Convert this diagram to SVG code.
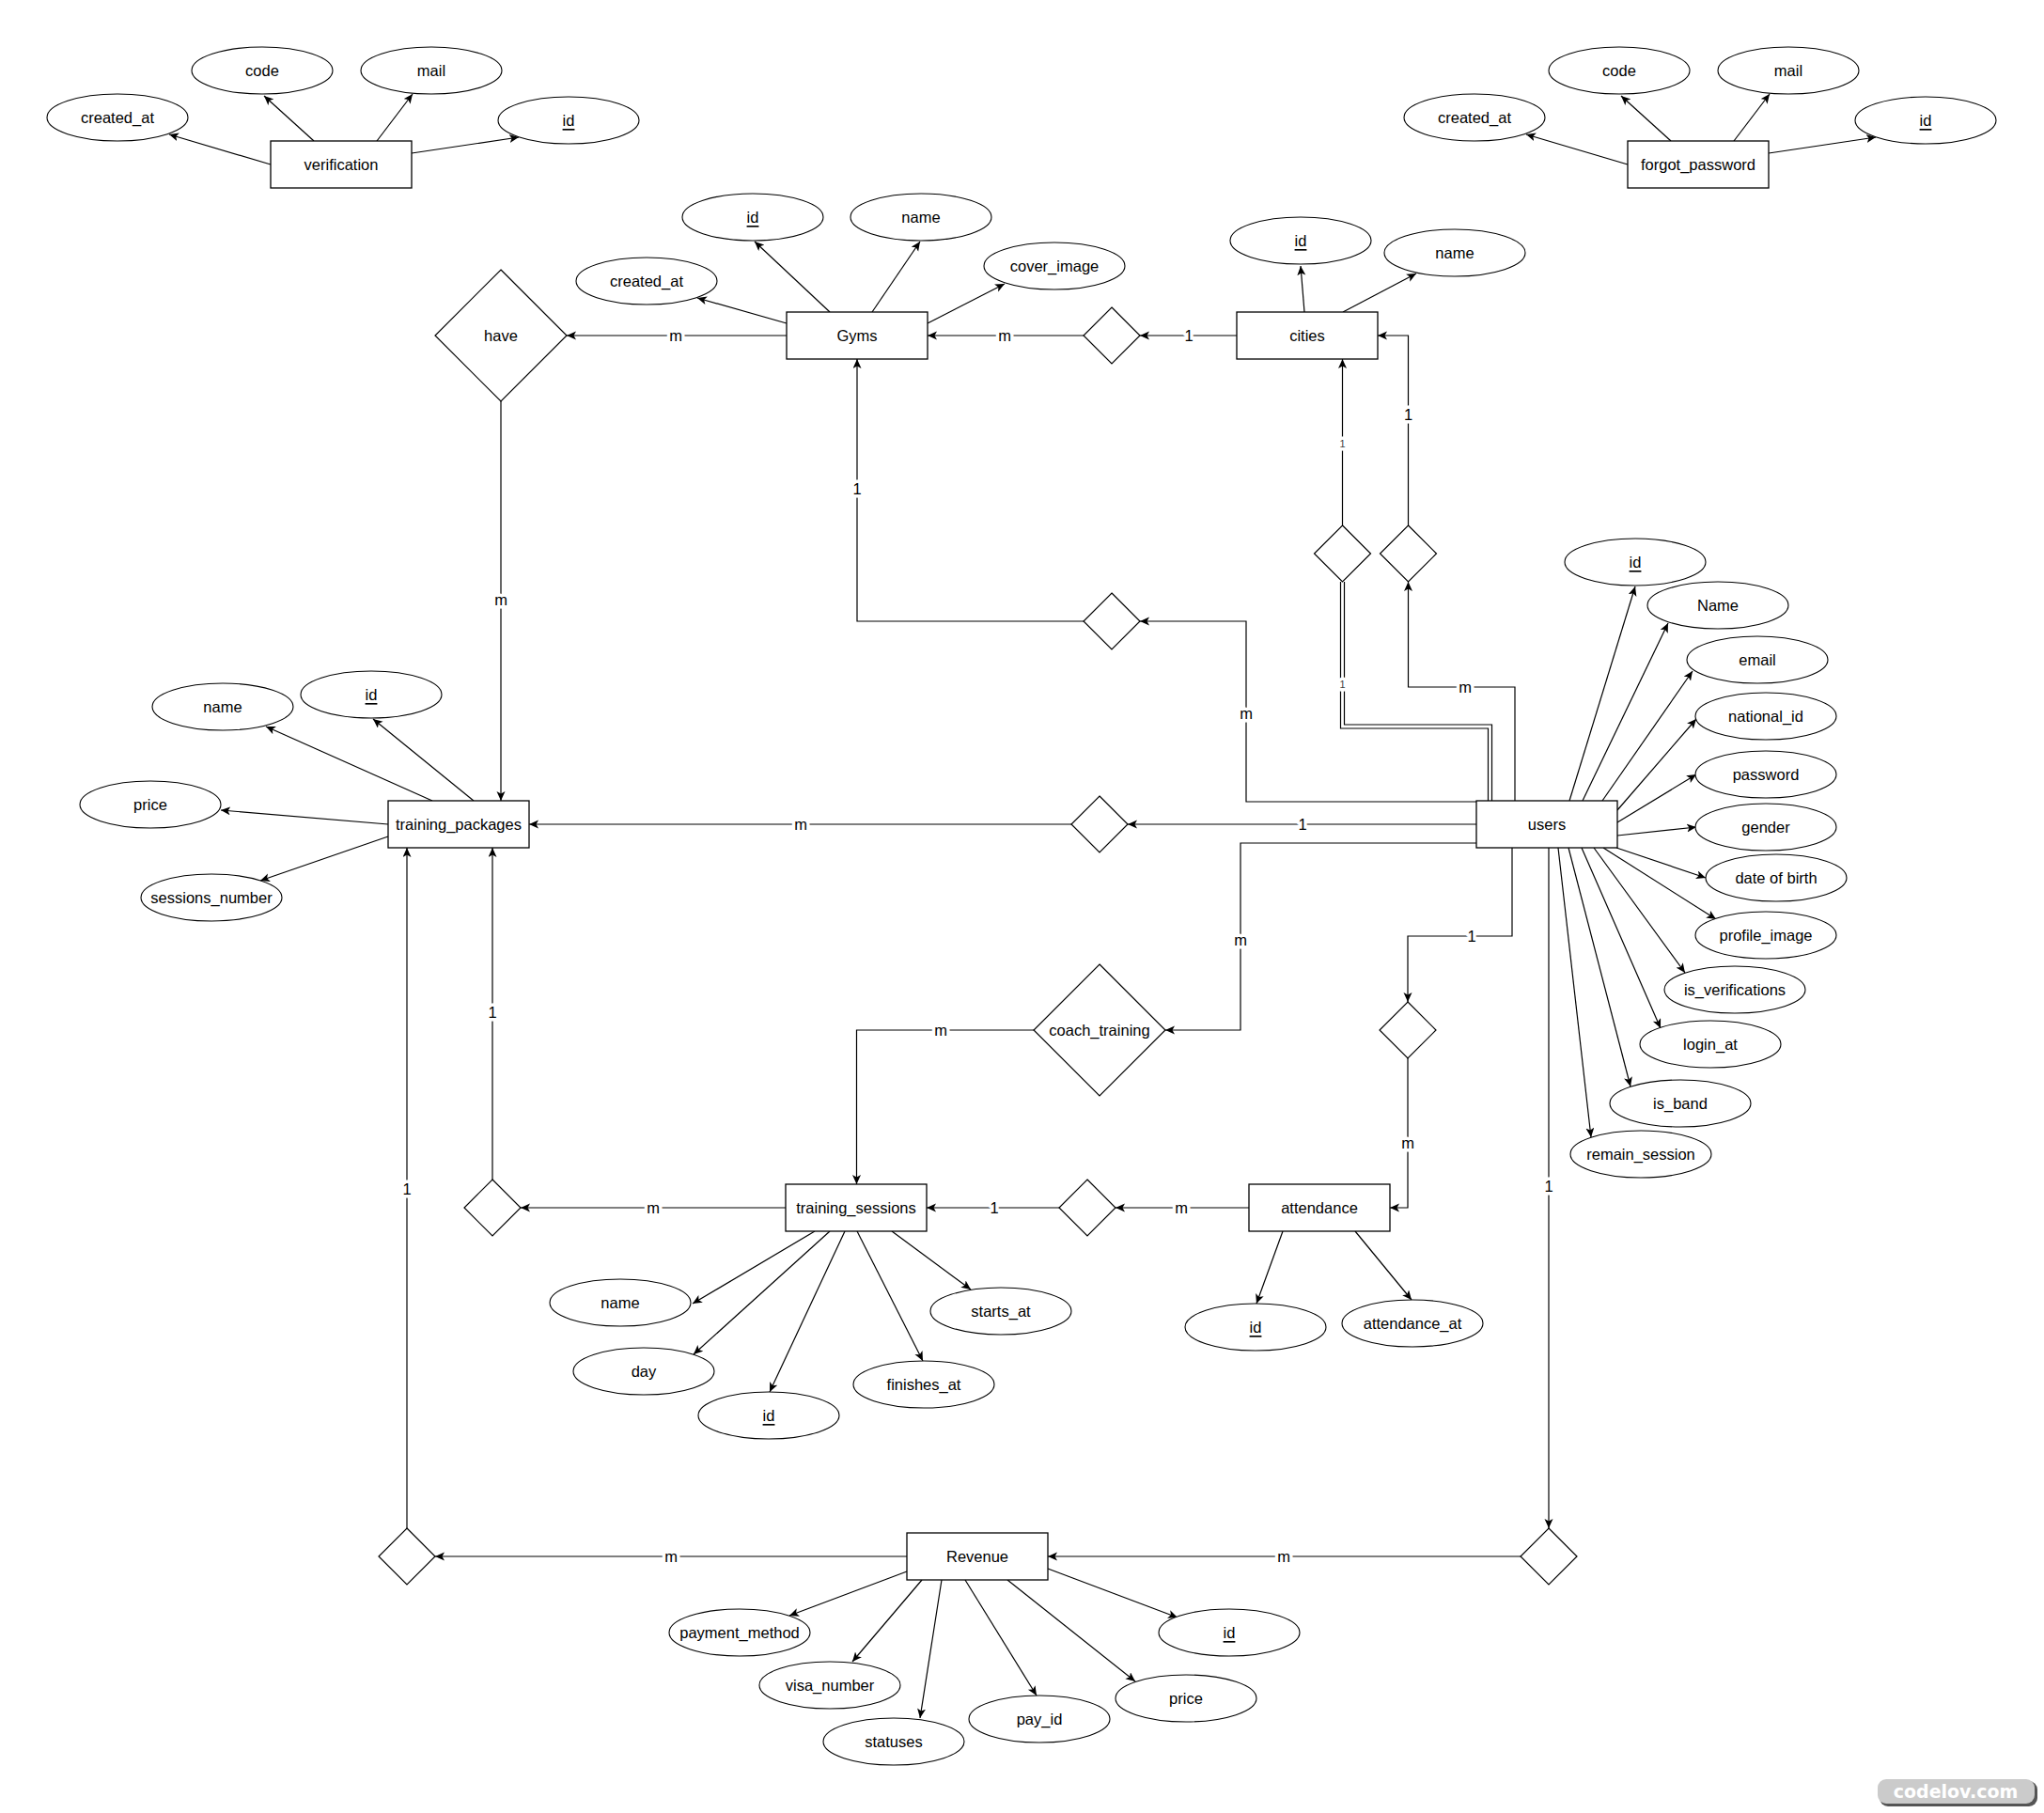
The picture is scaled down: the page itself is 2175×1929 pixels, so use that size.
<svg xmlns="http://www.w3.org/2000/svg" width="2175" height="1929" viewBox="0 0 2175 1929">
<style>
.ent{fill:#fff;stroke:#000;stroke-width:1.3}
.att{fill:#fff;stroke:#000;stroke-width:1.1}
.rel{fill:#fff;stroke:#000;stroke-width:1.2}
text{font-family:"Liberation Sans",Arial,sans-serif;font-size:16.5px;fill:#000;text-anchor:middle;dominant-baseline:central}
.u{text-decoration:underline}
.c{fill:none;stroke:#000;stroke-width:1.2}
.a{marker-end:url(#arr)}
.lb{paint-order:stroke;stroke:#fff;stroke-width:7px;stroke-linejoin:round}
.sm{font-size:11px;fill:#444}
</style>
<defs>
<marker id="arr" markerUnits="userSpaceOnUse" markerWidth="12" markerHeight="10" refX="10" refY="4.5" orient="auto">
<path d="M0,0 L10,4.5 L0,9 L2.5,4.5 Z" fill="#000"/>
</marker>
</defs>
<rect width="2175" height="1929" fill="#fff"/>

<g id="connectors">
<!-- verification attrs -->
<path class="c a" d="M288,175 L180,143"/>
<path class="c a" d="M334,150 L281,102"/>
<path class="c a" d="M401,150 L439,100"/>
<path class="c a" d="M438,163 L552,146"/>
<!-- forgot_password attrs -->
<path class="c a" d="M1732,175 L1624,143"/>
<path class="c a" d="M1778,150 L1725,102"/>
<path class="c a" d="M1845,150 L1883,100"/>
<path class="c a" d="M1882,163 L1996,146"/>
<!-- Gyms attrs -->
<path class="c a" d="M837,344 L742,317"/>
<path class="c a" d="M883,332 L803,257"/>
<path class="c a" d="M928,332 L979,257"/>
<path class="c a" d="M987,344 L1069,302"/>
<!-- cities attrs -->
<path class="c a" d="M1388,332 L1384,283"/>
<path class="c a" d="M1429,332 L1507,291"/>
<!-- users attrs -->
<path class="c a" d="M1670,852 L1740,624"/>
<path class="c a" d="M1684,852 L1775,663"/>
<path class="c a" d="M1705,852 L1801,714"/>
<path class="c a" d="M1721,862 L1805,765"/>
<path class="c a" d="M1721,875 L1805,824"/>
<path class="c a" d="M1721,889 L1805,880"/>
<path class="c a" d="M1720,902 L1815,934"/>
<path class="c a" d="M1706,902 L1826,978"/>
<path class="c a" d="M1696,902 L1793,1035"/>
<path class="c a" d="M1683,902 L1767,1094"/>
<path class="c a" d="M1669,902 L1735,1156"/>
<path class="c a" d="M1658,902 L1693,1210"/>
<!-- training_packages attrs -->
<path class="c a" d="M460,852 L283,773"/>
<path class="c a" d="M504,852 L397,765"/>
<path class="c a" d="M413,877 L235,862"/>
<path class="c a" d="M413,890 L277,937"/>
<!-- training_sessions attrs -->
<path class="c a" d="M867,1310 L737,1387"/>
<path class="c a" d="M883,1310 L738,1441"/>
<path class="c a" d="M899,1310 L819,1481"/>
<path class="c a" d="M912,1310 L982,1448"/>
<path class="c a" d="M949,1310 L1033,1372"/>
<!-- attendance attrs -->
<path class="c a" d="M1365,1310 L1337,1387"/>
<path class="c a" d="M1442,1310 L1502,1383"/>
<!-- Revenue attrs -->
<path class="c a" d="M965,1672 L840,1719"/>
<path class="c a" d="M981,1681 L907,1768"/>
<path class="c a" d="M1002,1681 L979,1828"/>
<path class="c a" d="M1027,1681 L1103,1804"/>
<path class="c a" d="M1072,1681 L1208,1789"/>
<path class="c a" d="M1115,1669 L1253,1721"/>

<!-- relationships -->
<path class="c a" d="M837,357 L603,357"/>
<path class="c a" d="M533,427 L533,852"/>
<path class="c a" d="M1153,357 L987,357"/>
<path class="c a" d="M1316,357 L1213,357"/>
<path class="c a" d="M1428.5,559 L1428.5,382"/>
<path class="c" d="M1426.5,619 L1426.5,775 L1583.5,775 L1583.5,852"/>
<path class="c" d="M1430.5,619 L1430.5,771 L1587.5,771 L1587.5,852"/>
<path class="c a" d="M1612,852 L1612,731 L1498.5,731 L1498.5,619"/>
<path class="c a" d="M1498.5,559 L1498.5,357 L1466,357"/>
<path class="c a" d="M1571,853 L1326,853 L1326,661 L1213,661"/>
<path class="c a" d="M1153,661 L912,661 L912,382"/>
<path class="c a" d="M1571,877 L1200,877"/>
<path class="c a" d="M1140,877 L563,877"/>
<path class="c a" d="M1571,897 L1320,897 L1320,1096 L1240,1096"/>
<path class="c a" d="M1100,1096 L911.5,1096 L911.5,1260"/>
<path class="c a" d="M1609,902 L1609,996 L1498,996 L1498,1066"/>
<path class="c a" d="M1498,1126 L1498,1285 L1479,1285"/>
<path class="c a" d="M1329,1285 L1187,1285"/>
<path class="c a" d="M1127,1285 L986,1285"/>
<path class="c a" d="M836,1285 L554,1285"/>
<path class="c a" d="M524,1255 L524,902"/>
<path class="c a" d="M1648,902 L1648,1626"/>
<path class="c a" d="M1618,1656 L1115,1656"/>
<path class="c a" d="M965,1656 L463,1656"/>
<path class="c a" d="M433,1626 L433,902"/>

<!-- labels -->
<text class="lb" x="719" y="357">m</text>
<text class="lb" x="533" y="638">m</text>
<text class="lb" x="1069" y="357">m</text>
<text class="lb" x="1265" y="357">1</text>
<text class="lb sm" x="1428.5" y="472">1</text>
<text class="lb sm" x="1428.5" y="728">1</text>
<text class="lb" x="1559" y="731">m</text>
<text class="lb" x="1498.5" y="441">1</text>
<text class="lb" x="1326" y="759">m</text>
<text class="lb" x="912" y="520">1</text>
<text class="lb" x="1386" y="877">1</text>
<text class="lb" x="852" y="877">m</text>
<text class="lb" x="1320" y="1000">m</text>
<text class="lb" x="1001" y="1096">m</text>
<text class="lb" x="1566" y="996">1</text>
<text class="lb" x="1498" y="1216">m</text>
<text class="lb" x="1257" y="1285">m</text>
<text class="lb" x="1058" y="1285">1</text>
<text class="lb" x="695" y="1285">m</text>
<text class="lb" x="524" y="1077">1</text>
<text class="lb" x="1648" y="1262">1</text>
<text class="lb" x="1366" y="1656">m</text>
<text class="lb" x="714" y="1656">m</text>
<text class="lb" x="433" y="1265">1</text>
</g>

<!-- verification -->
<g id="verification"><rect class="ent" x="288" y="150" width="150" height="50"/><text x="363" y="175">verification</text></g>
<g id="verification_created_at"><ellipse class="att" cx="125" cy="125" rx="75" ry="25"/><text x="125" y="125">created_at</text></g>
<g id="verification_code"><ellipse class="att" cx="279" cy="75" rx="75" ry="25"/><text x="279" y="75">code</text></g>
<g id="verification_mail"><ellipse class="att" cx="459" cy="75" rx="75" ry="25"/><text x="459" y="75">mail</text></g>
<g id="verification_id"><ellipse class="att" cx="605" cy="128" rx="75" ry="25"/><text class="u" x="605" y="128">id</text></g>

<!-- forgot_password -->
<g id="forgot_password"><rect class="ent" x="1732" y="150" width="150" height="50"/><text x="1807" y="175">forgot_password</text></g>
<g id="fp_created_at"><ellipse class="att" cx="1569" cy="125" rx="75" ry="25"/><text x="1569" y="125">created_at</text></g>
<g id="fp_code"><ellipse class="att" cx="1723" cy="75" rx="75" ry="25"/><text x="1723" y="75">code</text></g>
<g id="fp_mail"><ellipse class="att" cx="1903" cy="75" rx="75" ry="25"/><text x="1903" y="75">mail</text></g>
<g id="fp_id"><ellipse class="att" cx="2049" cy="128" rx="75" ry="25"/><text class="u" x="2049" y="128">id</text></g>

<!-- Gyms -->
<g id="gyms"><rect class="ent" x="837" y="332" width="150" height="50"/><text x="912" y="357">Gyms</text></g>
<g id="gyms_created_at"><ellipse class="att" cx="688" cy="299" rx="75" ry="25"/><text x="688" y="299">created_at</text></g>
<g id="gyms_id"><ellipse class="att" cx="801" cy="231" rx="75" ry="25"/><text class="u" x="801" y="231">id</text></g>
<g id="gyms_name"><ellipse class="att" cx="980" cy="231" rx="75" ry="25"/><text x="980" y="231">name</text></g>
<g id="gyms_cover_image"><ellipse class="att" cx="1122" cy="283" rx="75" ry="25"/><text x="1122" y="283">cover_image</text></g>
<g id="have"><polygon class="rel" points="533,287 603,357 533,427 463,357"/><text x="533" y="357">have</text></g>
<g id="rel_gyms_cities"><polygon class="rel" points="1183,327 1213,357 1183,387 1153,357"/></g>

<!-- cities -->
<g id="cities"><rect class="ent" x="1316" y="332" width="150" height="50"/><text x="1391" y="357">cities</text></g>
<g id="cities_id"><ellipse class="att" cx="1384" cy="256" rx="75" ry="25"/><text class="u" x="1384" y="256">id</text></g>
<g id="cities_name"><ellipse class="att" cx="1548" cy="269" rx="75" ry="25"/><text x="1548" y="269">name</text></g>
<g id="rel_users_cities_a"><polygon class="rel" points="1428.5,559 1458.5,589 1428.5,619 1398.5,589"/></g>
<g id="rel_users_cities_b"><polygon class="rel" points="1498.5,559 1528.5,589 1498.5,619 1468.5,589"/></g>
<g id="rel_users_gyms"><polygon class="rel" points="1183,631 1213,661 1183,691 1153,661"/></g>

<!-- users -->
<g id="users"><rect class="ent" x="1571" y="852" width="150" height="50"/><text x="1646" y="877">users</text></g>
<g id="users_id"><ellipse class="att" cx="1740" cy="598" rx="75" ry="25"/><text class="u" x="1740" y="598">id</text></g>
<g id="users_name"><ellipse class="att" cx="1828" cy="644" rx="75" ry="25"/><text x="1828" y="644">Name</text></g>
<g id="users_email"><ellipse class="att" cx="1870" cy="702" rx="75" ry="25"/><text x="1870" y="702">email</text></g>
<g id="users_national_id"><ellipse class="att" cx="1879" cy="762" rx="75" ry="25"/><text x="1879" y="762">national_id</text></g>
<g id="users_password"><ellipse class="att" cx="1879" cy="824" rx="75" ry="25"/><text x="1879" y="824">password</text></g>
<g id="users_gender"><ellipse class="att" cx="1879" cy="880" rx="75" ry="25"/><text x="1879" y="880">gender</text></g>
<g id="users_dob"><ellipse class="att" cx="1890" cy="934" rx="75" ry="25"/><text x="1890" y="934">date of birth</text></g>
<g id="users_profile_image"><ellipse class="att" cx="1879" cy="995" rx="75" ry="25"/><text x="1879" y="995">profile_image</text></g>
<g id="users_is_verifications"><ellipse class="att" cx="1846" cy="1053" rx="75" ry="25"/><text x="1846" y="1053">is_verifications</text></g>
<g id="users_login_at"><ellipse class="att" cx="1820" cy="1111" rx="75" ry="25"/><text x="1820" y="1111">login_at</text></g>
<g id="users_is_band"><ellipse class="att" cx="1788" cy="1174" rx="75" ry="25"/><text x="1788" y="1174">is_band</text></g>
<g id="users_remain_session"><ellipse class="att" cx="1746" cy="1228" rx="75" ry="25"/><text x="1746" y="1228">remain_session</text></g>

<!-- training_packages -->
<g id="training_packages"><rect class="ent" x="413" y="852" width="150" height="50"/><text x="488" y="877">training_packages</text></g>
<g id="tp_name"><ellipse class="att" cx="237" cy="752" rx="75" ry="25"/><text x="237" y="752">name</text></g>
<g id="tp_id"><ellipse class="att" cx="395" cy="739" rx="75" ry="25"/><text class="u" x="395" y="739">id</text></g>
<g id="tp_price"><ellipse class="att" cx="160" cy="856" rx="75" ry="25"/><text x="160" y="856">price</text></g>
<g id="tp_sessions_number"><ellipse class="att" cx="225" cy="955" rx="75" ry="25"/><text x="225" y="955">sessions_number</text></g>
<g id="rel_users_packages"><polygon class="rel" points="1170,847 1200,877 1170,907 1140,877"/></g>

<!-- coach_training -->
<g id="coach_training"><polygon class="rel" points="1170,1026 1240,1096 1170,1166 1100,1096"/><text x="1170" y="1096">coach_training</text></g>

<!-- training_sessions -->
<g id="training_sessions"><rect class="ent" x="836" y="1260" width="150" height="50"/><text x="911" y="1285">training_sessions</text></g>
<g id="ts_name"><ellipse class="att" cx="660" cy="1386" rx="75" ry="25"/><text x="660" y="1386">name</text></g>
<g id="ts_day"><ellipse class="att" cx="685" cy="1459" rx="75" ry="25"/><text x="685" y="1459">day</text></g>
<g id="ts_id"><ellipse class="att" cx="818" cy="1506" rx="75" ry="25"/><text class="u" x="818" y="1506">id</text></g>
<g id="ts_finishes_at"><ellipse class="att" cx="983" cy="1473" rx="75" ry="25"/><text x="983" y="1473">finishes_at</text></g>
<g id="ts_starts_at"><ellipse class="att" cx="1065" cy="1395" rx="75" ry="25"/><text x="1065" y="1395">starts_at</text></g>
<g id="rel_sessions_packages"><polygon class="rel" points="524,1255 554,1285 524,1315 494,1285"/></g>
<g id="rel_attendance_sessions"><polygon class="rel" points="1157,1255 1187,1285 1157,1315 1127,1285"/></g>

<!-- attendance -->
<g id="attendance"><rect class="ent" x="1329" y="1260" width="150" height="50"/><text x="1404" y="1285">attendance</text></g>
<g id="att_id"><ellipse class="att" cx="1336" cy="1412" rx="75" ry="25"/><text class="u" x="1336" y="1412">id</text></g>
<g id="att_attendance_at"><ellipse class="att" cx="1503" cy="1408" rx="75" ry="25"/><text x="1503" y="1408">attendance_at</text></g>
<g id="rel_users_attendance"><polygon class="rel" points="1498,1066 1528,1096 1498,1126 1468,1096"/></g>

<!-- Revenue -->
<g id="revenue"><rect class="ent" x="965" y="1631" width="150" height="50"/><text x="1040" y="1656">Revenue</text></g>
<g id="rev_payment_method"><ellipse class="att" cx="787" cy="1737" rx="75" ry="25"/><text x="787" y="1737">payment_method</text></g>
<g id="rev_visa_number"><ellipse class="att" cx="883" cy="1793" rx="75" ry="25"/><text x="883" y="1793">visa_number</text></g>
<g id="rev_statuses"><ellipse class="att" cx="951" cy="1853" rx="75" ry="25"/><text x="951" y="1853">statuses</text></g>
<g id="rev_pay_id"><ellipse class="att" cx="1106" cy="1829" rx="75" ry="25"/><text x="1106" y="1829">pay_id</text></g>
<g id="rev_price"><ellipse class="att" cx="1262" cy="1807" rx="75" ry="25"/><text x="1262" y="1807">price</text></g>
<g id="rev_id"><ellipse class="att" cx="1308" cy="1737" rx="75" ry="25"/><text class="u" x="1308" y="1737">id</text></g>
<g id="rel_revenue_packages"><polygon class="rel" points="433,1626 463,1656 433,1686 403,1656"/></g>
<g id="rel_users_revenue"><polygon class="rel" points="1648,1626 1678,1656 1648,1686 1618,1656"/></g>

<!-- watermark -->
<g id="watermark">
<rect x="2000" y="1895" width="168" height="27" rx="9" fill="#555"/>
<rect x="1998" y="1893" width="167" height="26" rx="9" fill="#cbcbcb"/>
<text x="2081" y="1906" style="font-family:'DejaVu Sans',sans-serif;font-weight:bold;font-size:19px;fill:#fff">codelov.com</text>
</g>
</svg>
